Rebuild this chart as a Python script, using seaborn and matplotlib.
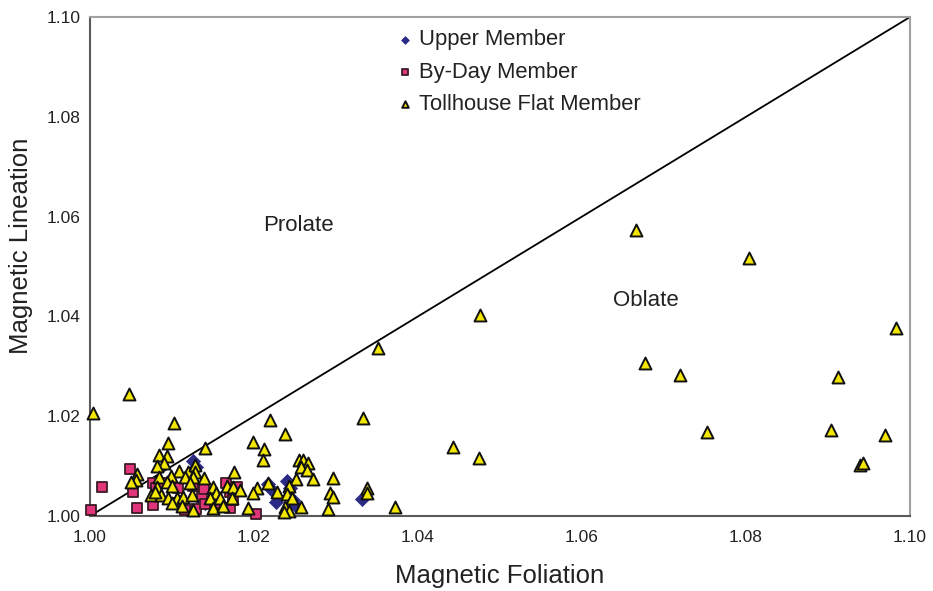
import matplotlib
matplotlib.use("Agg")
import matplotlib.pyplot as plt
import seaborn as sns
import pandas as pd

# Upper Member (diamonds)
upper_x = [1.0126, 1.0129, 1.0134, 1.0140, 1.0217, 1.0222, 1.0227, 1.0240, 1.0244, 1.0248, 1.0251, 1.0332]
upper_y = [1.0110, 1.0098, 1.0034, 1.0026, 1.0064, 1.0052, 1.0028, 1.0070, 1.0056, 1.0032, 1.0020, 1.0034]

# By-Day Member (squares)
byday_x = [1.0001, 1.0015, 1.0049, 1.0052, 1.0057, 1.0077, 1.0077, 1.0080, 1.0089, 1.0102,
           1.0107, 1.0111, 1.0116, 1.0126, 1.0129, 1.0137, 1.0139, 1.0140, 1.0152, 1.0166,
           1.0171, 1.0171, 1.0174, 1.0179, 1.0202]
byday_y = [1.0012, 1.0058, 1.0094, 1.0048, 1.0016, 1.0066, 1.0022, 1.0056, 1.0066, 1.0026,
           1.0056, 1.0030, 1.0012, 1.0060, 1.0014, 1.0040, 1.0054, 1.0024, 1.0026, 1.0066,
           1.0048, 1.0016, 1.0032, 1.0058, 1.0004]

# Tollhouse Flat Member (triangles)
toll_x = [1.0004, 1.0048, 1.0102, 1.0140, 1.0095, 1.0199, 1.0212, 1.0211, 1.0220, 1.0238,
          1.0333, 1.0084, 1.0094, 1.0090, 1.0082, 1.0057, 1.0056, 1.0050, 1.0109, 1.0120,
          1.0128, 1.0128, 1.0126, 1.0084, 1.0099, 1.0094, 1.0116, 1.0082, 1.0100, 1.0122,
          1.0139, 1.0176, 1.0217, 1.0204, 1.0199, 1.0228, 1.0074, 1.0087, 1.0079, 1.0095,
          1.0106, 1.0113, 1.0124, 1.0150, 1.0167, 1.0174, 1.0183, 1.0154, 1.0146, 1.0159,
          1.0173, 1.0100, 1.0112, 1.0126, 1.0150, 1.0162, 1.0193, 1.0255, 1.0260, 1.0266,
          1.0257, 1.0265, 1.0251, 1.0272, 1.0296, 1.0293, 1.0296, 1.0338, 1.0338, 1.0243,
          1.0240, 1.0246, 1.0257, 1.0238, 1.0243, 1.0237, 1.0290, 1.0372, 1.0351, 1.0476,
          1.0443, 1.0474, 1.0666, 1.0677, 1.0720, 1.0752, 1.0804, 1.0912, 1.0904, 1.0939,
          1.0943, 1.0970, 1.0983]
toll_y = [1.0206, 1.0244, 1.0186, 1.0136, 1.0146, 1.0148, 1.0134, 1.0112, 1.0192, 1.0164,
          1.0196, 1.0122, 1.0120, 1.0106, 1.0100, 1.0084, 1.0072, 1.0068, 1.0090, 1.0088,
          1.0102, 1.0088, 1.0078, 1.0078, 1.0080, 1.0068, 1.0078, 1.0058, 1.0060, 1.0066,
          1.0076, 1.0088, 1.0066, 1.0056, 1.0046, 1.0048, 1.0042, 1.0042, 1.0048, 1.0036,
          1.0036, 1.0038, 1.0042, 1.0058, 1.0060, 1.0058, 1.0052, 1.0046, 1.0036, 1.0036,
          1.0036, 1.0026, 1.0020, 1.0012, 1.0016, 1.0020, 1.0016, 1.0112, 1.0112, 1.0106,
          1.0098, 1.0092, 1.0074, 1.0074, 1.0076, 1.0046, 1.0038, 1.0056, 1.0046, 1.0060,
          1.0044, 1.0036, 1.0018, 1.0018, 1.0010, 1.0008, 1.0014, 1.0018, 1.0337, 1.0403,
          1.0138, 1.0116, 1.0573, 1.0307, 1.0283, 1.0168, 1.0517, 1.0279, 1.0172, 1.0102,
          1.0106, 1.0162, 1.0377]

ticks = [1.00, 1.02, 1.04, 1.06, 1.08, 1.10]
tick_labels = ["1.00", "1.02", "1.04", "1.06", "1.08", "1.10"]

sns.set_style("white")
plt.rcParams["font.family"] = ["Liberation Sans", "DejaVu Sans"]

fig = plt.figure(figsize=(9.33, 5.91), dpi=100)
ax = fig.add_axes([90 / 933, 1 - 516 / 591, 820 / 933, 499 / 591])

ax.plot([1.0, 1.1], [1.0, 1.1], color="black", lw=1.3, zorder=1)

df_u = pd.DataFrame({"x": upper_x, "y": upper_y})
df_b = pd.DataFrame({"x": byday_x, "y": byday_y})
df_t = pd.DataFrame({"x": toll_x, "y": toll_y})

sns.scatterplot(data=df_u, x="x", y="y", ax=ax, marker="D", s=52, color="#2b2b85",
                edgecolor="#2b2b85", linewidth=0.5, label="Upper Member", zorder=3)
sns.scatterplot(data=df_b, x="x", y="y", ax=ax, marker="s", s=58, color="#e0357a",
                edgecolor="#3a1a24", linewidth=1.3, label="By-Day Member", zorder=4,
                clip_on=False)
sns.scatterplot(data=df_t, x="x", y="y", ax=ax, marker="^", s=74, color="#f3e600",
                edgecolor="#111111", linewidth=1.4, label="Tollhouse Flat Member", zorder=5,
                clip_on=False)

ax.set_xlim(1.0, 1.1)
ax.set_ylim(1.0, 1.1)
ax.set_xticks(ticks)
ax.set_xticklabels(tick_labels)
ax.set_yticks(ticks)
ax.set_yticklabels(tick_labels)
ax.tick_params(axis="both", direction="out", length=4, width=1, colors="#333333",
               labelsize=12.5, labelcolor="#222222")
ax.tick_params(axis="y", pad=3)
ax.tick_params(axis="x", pad=6)

for side in ["left", "bottom"]:
    ax.spines[side].set_color("#5a5a5a")
    ax.spines[side].set_linewidth(1.5)
for side in ["top", "right"]:
    ax.spines[side].set_color("#a0a0a0")
    ax.spines[side].set_linewidth(1.5)

ax.set_xlabel("Magnetic Foliation", fontsize=18.5, color="#222222", labelpad=14)
ax.set_ylabel("Magnetic Lineation", fontsize=18.5, color="#222222")
ax.yaxis.set_label_coords(-0.0695, 0.541)

ax.text(1.0254, 1.0583, "Prolate", fontsize=16, ha="center", va="center", color="#222222")
ax.text(1.0678, 1.0431, "Oblate", fontsize=16, ha="center", va="center", color="#222222")

leg = ax.legend(loc="upper left", bbox_to_anchor=(0.362, 0.993), frameon=False,
                fontsize=15.8, markerscale=0.55, handletextpad=0.15, handlelength=0.9,
                labelspacing=0.52, borderaxespad=0)
for t in leg.get_texts():
    t.set_color("#222222")

fig.savefig("out.png", dpi=100)
